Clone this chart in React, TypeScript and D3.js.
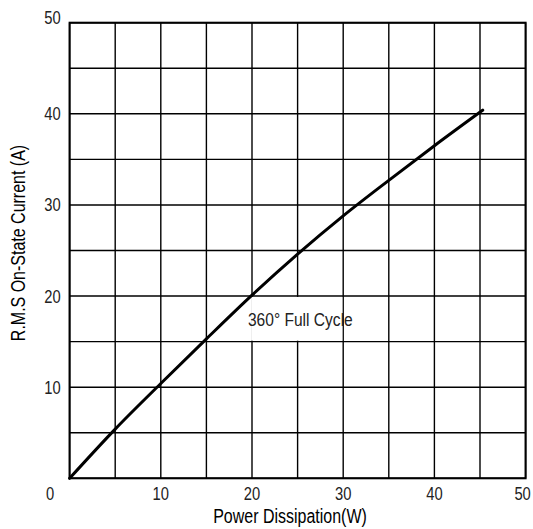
import React, { useEffect, useRef } from "react";
import * as d3 from "d3";

// power dissipation (W) vs rms on-state current (A)
const powerW = [0, 5, 10, 15, 20, 25, 30, 35, 40, 45.3];
const currentA = [0, 5.4, 10.4, 15.3, 20.1, 24.6, 28.8, 32.7, 36.5, 40.4];

const gridTicks = [0, 5, 10, 15, 20, 25, 30, 35, 40, 45, 50];
const labelTicks = [10, 20, 30, 40, 50];

const curveLabel = "360° Full Cycle";
const xTitle = "Power Dissipation(W)";
const yTitle = "R.M.S On-State Current (A)";

const FONT = "'Liberation Sans', Arial, sans-serif";
const SQUEEZE = 0.82; // no narrow face installed, so condense by hand

export default function App() {
  const svgRef = useRef<SVGSVGElement>(null);

  useEffect(() => {
    if (!svgRef.current) return;

    const width = 533;
    const height = 529;
    const marginTop = 22.7;
    const marginRight = 7.4;
    const marginBottom = 50.7;
    const marginLeft = 69.6;

    d3.select(svgRef.current).selectAll("*").remove();

    const svg = d3.select(svgRef.current)
      .attr("width", width)
      .attr("height", height)
      .attr("viewBox", [0, 0, width, height]);

    svg.append("rect")
      .attr("width", width)
      .attr("height", height)
      .attr("fill", "white");

    const x = d3.scaleLinear()
      .domain([0, 50])
      .range([marginLeft, width - marginRight]);

    const y = d3.scaleLinear()
      .domain([0, 50])
      .range([height - marginBottom, marginTop]);

    const label = (
      tx: number,
      ty: number,
      str: string | number,
      size: number,
      anchor: string,
      rotate = 0,
      fill = "#222"
    ) =>
      svg.append("text")
        .attr("transform", `translate(${tx},${ty}) rotate(${rotate}) scale(${SQUEEZE},1)`)
        .attr("text-anchor", anchor)
        .style("font-family", FONT)
        .style("font-size", `${size}px`)
        .style("fill", fill)
        .text(str);

    // Grid
    const grid = svg.append("g")
      .attr("stroke", "#000")
      .attr("stroke-width", 1.4);

    grid.selectAll("line.v")
      .data(gridTicks)
      .join("line")
      .attr("class", "v")
      .attr("x1", d => x(d))
      .attr("x2", d => x(d))
      .attr("y1", y(0))
      .attr("y2", y(50));

    grid.selectAll("line.h")
      .data(gridTicks)
      .join("line")
      .attr("class", "h")
      .attr("x1", x(0))
      .attr("x2", x(50))
      .attr("y1", d => y(d))
      .attr("y2", d => y(d));

    // Label box hides the gridlines inside the cell
    svg.append("rect")
      .attr("x", x(19.9))
      .attr("y", y(19.9))
      .attr("width", x(29.9) - x(19.9))
      .attr("height", y(15.1) - y(19.9))
      .attr("fill", "white");

    // Frame
    svg.append("rect")
      .attr("x", x(0))
      .attr("y", y(50))
      .attr("width", x(50) - x(0))
      .attr("height", y(0) - y(50))
      .attr("fill", "none")
      .attr("stroke", "#000")
      .attr("stroke-width", 2);

    // Curve
    const line = d3.line<number>()
      .x((_, i) => x(powerW[i]))
      .y(d => y(d))
      .curve(d3.curveMonotoneX);

    svg.append("path")
      .datum(currentA)
      .attr("fill", "none")
      .attr("stroke", "#000")
      .attr("stroke-width", 3)
      .attr("stroke-linecap", "round")
      .attr("d", line);

    label(x(25.3), y(17.5) + 7, curveLabel, 19, "middle");

    // Tick labels
    labelTicks.forEach(d => {
      label(x(d) - (d === 50 ? 3 : 0), y(0) + 21.5, d, 18, "middle");
      label(x(0) - 9, y(d) - (d === 50 ? 5 : 0) + 6.5, d, 18, "end");
    });

    // Shared corner zero
    label(x(0) - 19.6, y(0) + 21.5, 0, 18, "middle");

    // Axis titles
    label(290, height - 6, xTitle, 19.5, "middle", 0, "#000");
    label(25, 243, yTitle, 19.5, "middle", -90, "#000");
  }, []);

  return (
    <svg
      ref={svgRef}
      style={{ position: "absolute", left: 0, top: 0, display: "block" }}
    ></svg>
  );
}
